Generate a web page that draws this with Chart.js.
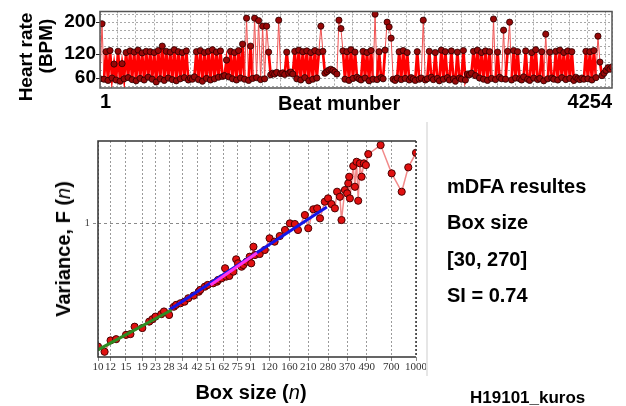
<!DOCTYPE html>
<html>
<head>
<meta charset="utf-8">
<script src="https://cdn.jsdelivr.net/npm/chart.js@4.4.1/dist/chart.umd.min.js"></script>
<style>
  html, body { margin: 0; padding: 0; background: #fff; }
  #page {
    position: relative; width: 626px; height: 406px; overflow: hidden;
    font-family: 'Liberation Sans', Arial, sans-serif; font-weight: bold; color: #000;
  }
  canvas { position: absolute; left: 0; }
  .lbl { position: absolute; white-space: nowrap; font-size: 20px; line-height: 20px; }
  .centered { transform: translate(-50%, -50%); }
  .rot { transform: translate(-50%, -50%) rotate(-90deg); }
  .lbl i { font-weight: normal; }
  #divider { position: absolute; left: 426px; top: 122px; width: 2px; height: 254px; background: #e6e6e6; }
</style>
</head>
<body>
<div id="page">
  <canvas id="hr-chart" width="626" height="115" style="top:0"></canvas>
  <canvas id="dfa-chart" width="626" height="281" style="top:125px"></canvas>
  <div id="divider"></div>

  <div class="lbl rot" style="left:26px; top:57px; font-size:19px;">Heart rate</div>
  <div class="lbl rot" style="left:46px; top:46px; font-size:19px;">(BPM)</div>
  <div class="lbl" style="left:278px; top:93px;">Beat munber</div>
  <div class="lbl rot" style="left:63px; top:249px;">Variance, F (<i>n</i>)</div>
  <div class="lbl centered" style="left:251px; top:392px;">Box size (<i>n</i>)</div>

  <div class="lbl" style="left:447px; top:176px;">mDFA resultes</div>
  <div class="lbl" style="left:447px; top:212px;">Box size</div>
  <div class="lbl" style="left:447px; top:249px;">[30, 270]</div>
  <div class="lbl" style="left:447px; top:285px;">SI = 0.74</div>
  <div class="lbl" style="left:470px; top:389px; font-size:17px; line-height:17px;">H19101_kuros</div>
</div>

<script>
// heart rate trace (BPM), one value per ~17 beats over the recording
const heartRate = [
    58, 196, 57, 126, 54, 129, 60, 95, 55, 127, 52, 96, 58, 124, 61, 128,
    56, 125, 53, 130, 59, 123, 55, 127, 62, 126, 57, 124, 50, 129, 58, 140,
    54, 127, 60, 125, 56, 131, 53, 126, 58, 124, 61, 128, 55, 60, 57, 63,
    126, 56, 129, 52, 124, 59, 127, 55, 131, 58, 125, 62, 128, 64, 66, 105,
    63, 127, 58, 124, 55, 129, 60, 145, 57, 210, 54, 140, 59, 210, 61, 204,
    56, 190, 58, 190, 125, 68, 72, 70, 74, 205, 71, 73, 69, 125, 72, 75,
    70, 127, 58, 130, 55, 126, 61, 128, 53, 124, 57, 129, 60, 125, 190, 127,
    72, 76, 80, 82, 79, 75, 70, 205, 184, 128, 57, 126, 54, 131, 59, 125,
    62, 58, 55, 127, 60, 124, 53, 129, 57, 220, 56, 126, 61, 58, 130, 200,
    188, 160, 57, 54, 60, 126, 56, 129, 59, 124, 55, 61, 58, 54, 126, 57,
    60, 205, 55, 58, 127, 62, 56, 124, 59, 53, 130, 57, 126, 61, 55, 128,
    58, 52, 125, 60, 57, 129, 55, 70, 68, 72, 127, 66, 130, 60, 124, 57,
    128, 54, 126, 59, 208, 56, 125, 62, 58, 180, 57, 127, 200, 55, 129, 60,
    126, 58, 55, 63, 128, 57, 54, 124, 60, 131, 56, 59, 126, 53, 170, 58,
    125, 60, 57, 127, 55, 130, 61, 124, 56, 128, 59, 126, 54, 62, 58, 56,
    60, 57, 127, 58, 126, 55, 129, 61, 165, 100, 66, 72, 79, 86, 82, 88
];
const beatFirst = 1;
const beatLast = 4254;
const beatTickLabels = [1, 4254];
const hrTickLabels = [60, 120, 200];

// mDFA: fluctuation F(n) against box size n
const boxSizes = [
    10, 11, 12, 13, 15, 16, 17, 19, 21, 22,
    23, 25, 26, 28, 30, 31, 33, 35, 37, 40,
    43, 44, 47, 49, 53, 56, 57, 60, 63, 64,
    67, 71, 74, 76, 80, 82, 86, 90, 92, 95,
    97, 104, 112, 120, 129, 139, 150, 161, 173, 181,
    200, 210, 226, 239, 249, 267, 280, 294, 309, 319,
    332, 340, 357, 369, 375, 380, 384, 403, 413, 423,
    433, 444, 455, 470, 484, 501, 599, 703, 813, 894,
    1000
];
const fluctuations = [
    0.134, 0.123, 0.148, 0.151, 0.162, 0.164, 0.185, 0.181, 0.201, 0.209,
    0.218, 0.227, 0.237, 0.224, 0.256, 0.264, 0.271, 0.278, 0.294, 0.307,
    0.327, 0.337, 0.355, 0.365, 0.375, 0.385, 0.396, 0.407, 0.479, 0.418,
    0.423, 0.453, 0.554, 0.519, 0.491, 0.505, 0.533, 0.578, 0.519, 0.680,
    0.594, 0.604, 0.645, 0.780, 0.738, 0.809, 0.893, 0.995, 0.984, 0.893,
    1.139, 0.918, 1.250, 1.270, 1.079, 1.414, 1.494, 1.362, 1.270, 1.664,
    1.533, 1.050, 1.710, 1.621, 1.907, 2.123, 1.494, 2.526, 1.804, 2.710,
    1.437, 2.640, 2.123, 2.640, 2.568, 3.071, 3.555, 2.244, 1.664, 2.474,
    3.137
];
const boxTickLabels = [10, 12, 15, 19, 23, 28, 34, 42, 51, 62, 75, 91, 120, 160, 210, 280, 370, 490, 700, 1000];
const fTickLabels = [1];

// fitted lines (end points)
const greenFitBox = [10, 29];
const greenFitF = [0.127, 0.243];
const blueFitBox = [28, 275];
const blueFitF = [0.243, 1.30];
const magentaFitBox = [51, 100];
const magentaFitF = [0.365, 0.614];

const SANS = "'Liberation Sans', Arial, sans-serif";
const SERIF = "'Liberation Serif', 'DejaVu Serif', serif";

Chart.defaults.font.family = SANS;
Chart.defaults.animation = false;

function framePlugin(color, width, dottedRight) {
    return {
        id: 'frame',
        afterDatasetsDraw(chart) {
            const { ctx, chartArea: a } = chart;
            ctx.save();
            ctx.strokeStyle = color;
            ctx.lineWidth = width;
            ctx.beginPath();
            ctx.moveTo(a.right, a.top);
            ctx.lineTo(a.left, a.top);
            ctx.lineTo(a.left, a.bottom);
            ctx.lineTo(a.right, a.bottom);
            if (!dottedRight) { ctx.closePath(); }
            ctx.stroke();
            if (dottedRight) {
                ctx.setLineDash([2, 2]);
                ctx.beginPath();
                ctx.moveTo(a.right, a.top);
                ctx.lineTo(a.right, a.bottom);
                ctx.stroke();
            }
            ctx.restore();
        }
    };
}

function pairs(xs, ys) {
    return xs.map((x, i) => ({ x: x, y: ys[i] }));
}

// ---- heart rate panel ----
const beatStep = (beatLast - beatFirst) / (heartRate.length - 1);
const hrPoints = heartRate.map((hr, i) => ({ x: beatFirst + i * beatStep, y: hr }));

const hrGrid = [];
for (let v = 40; v <= 220; v += 20) { hrGrid.push(v); }
const beatGrid = [beatFirst];
for (let b = 150; b < beatLast; b += 150) { beatGrid.push(b); }
beatGrid.push(beatLast);

// thin, lighter strokes for the isolated spikes
const isSpike = (s) => s.p0.parsed.y > 150 || s.p1.parsed.y > 150;

new Chart(document.getElementById('hr-chart'), {
    type: 'line',
    data: {
        datasets: [{
            data: hrPoints,
            borderColor: '#ff0000',
            borderWidth: 2.7,
            segment: {
                borderWidth: (s) => isSpike(s) ? 1 : 2.7,
                borderColor: (s) => isSpike(s) ? '#f05050' : '#ff0000'
            },
            pointRadius: 3.1,
            pointBackgroundColor: '#980808',
            pointBorderColor: '#2a0000',
            pointBorderWidth: 0.8,
            tension: 0
        }]
    },
    options: {
        responsive: false,
        layout: { autoPadding: false, padding: { top: 7, right: 14, left: 0, bottom: 0 } },
        plugins: { legend: { display: false }, tooltip: { enabled: false } },
        scales: {
            x: {
                type: 'linear',
                min: beatFirst,
                max: beatLast,
                afterBuildTicks: (scale) => { scale.ticks = beatGrid.map(v => ({ value: v })); },
                afterFit: (scale) => { scale.height = 27; },
                ticks: {
                    autoSkip: false,
                    maxRotation: 0,
                    align: 'inner',
                    padding: 2,
                    color: '#000',
                    font: { size: 20, weight: 'bold' },
                    callback: (v) => beatTickLabels.includes(v) ? String(v) : ''
                },
                grid: { color: '#a8a8a8', drawTicks: false },
                border: { display: false, dash: [2, 2] }
            },
            y: {
                type: 'linear',
                min: 35,
                max: 227,
                afterBuildTicks: (scale) => { scale.ticks = hrGrid.map(v => ({ value: v })); },
                afterFit: (scale) => { scale.width = 100; },
                ticks: {
                    autoSkip: false,
                    padding: 0,
                    color: '#000',
                    font: { size: 19, weight: 'bold' },
                    callback: (v) => hrTickLabels.includes(v) ? String(v) : ''
                },
                grid: {
                    color: '#a8a8a8',
                    tickLength: 4,
                    tickColor: (c) => (c.tick && hrTickLabels.includes(c.tick.value)) ? '#222' : 'rgba(0,0,0,0)'
                },
                border: { display: false, dash: [2, 2] }
            }
        }
    },
    plugins: [framePlugin('#555', 1.5, false)]
});

// ---- mDFA panel ----
new Chart(document.getElementById('dfa-chart'), {
    type: 'line',
    data: {
        datasets: [{
            data: pairs(greenFitBox, greenFitF),
            borderColor: '#2e8b22',
            borderWidth: 3,
            pointRadius: 0
        }, {
            data: pairs(magentaFitBox, magentaFitF),
            borderColor: '#ff33ee',
            borderWidth: 3,
            pointRadius: 0
        }, {
            data: pairs(blueFitBox, blueFitF),
            borderColor: '#1515e8',
            borderWidth: 3,
            pointRadius: 0
        }, {
            data: pairs(boxSizes, fluctuations),
            borderColor: '#f28a8a',
            borderWidth: 1.5,
            pointRadius: 3.6,
            pointBackgroundColor: '#e01010',
            pointBorderColor: '#4a0000',
            pointBorderWidth: 1,
            clip: 0,
            tension: 0
        }]
    },
    options: {
        responsive: false,
        layout: { autoPadding: false, padding: { top: 16, right: 210, left: 0, bottom: 0 } },
        plugins: { legend: { display: false }, tooltip: { enabled: false } },
        scales: {
            x: {
                type: 'logarithmic',
                min: 10,
                max: 1000,
                afterBuildTicks: (scale) => { scale.ticks = boxTickLabels.map(v => ({ value: v })); },
                afterFit: (scale) => { scale.height = 49; },
                ticks: {
                    autoSkip: false,
                    maxRotation: 0,
                    minRotation: 0,
                    padding: 0,
                    color: '#333',
                    font: { family: SERIF, size: 11, weight: 'normal' },
                    callback: (v) => String(v)
                },
                grid: { color: '#9a9a9a', tickLength: 4, tickColor: '#888' },
                border: { display: false, dash: [2, 2] }
            },
            y: {
                type: 'logarithmic',
                min: 0.113,
                max: 3.8,
                afterBuildTicks: (scale) => { scale.ticks = fTickLabels.map(v => ({ value: v })); },
                afterFit: (scale) => { scale.width = 98; },
                ticks: {
                    padding: 3,
                    color: '#444',
                    font: { family: SERIF, size: 11, weight: 'normal' },
                    callback: (v) => String(v)
                },
                grid: { color: '#8a8a8a', tickLength: 5, tickColor: '#8a8a8a', tickBorderDash: [3, 3] },
                border: { display: false, dash: [3, 3] }
            }
        }
    },
    plugins: [framePlugin('#333', 1.5, true)]
});
</script>
</body>
</html>
